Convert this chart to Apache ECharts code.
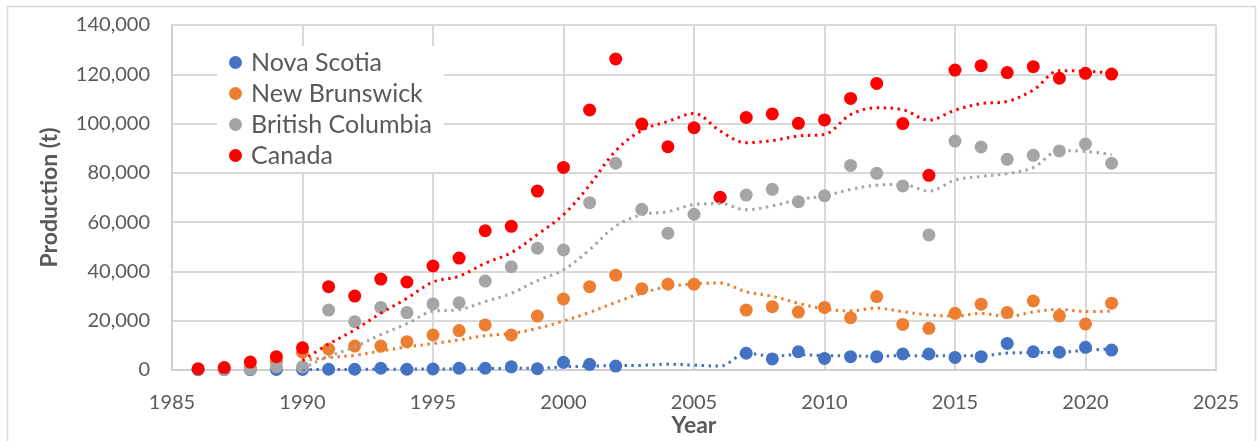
<!DOCTYPE html>
<html>
<head>
<meta charset="utf-8">
<title>Production (t)</title>
<script src="https://cdn.jsdelivr.net/npm/echarts@6/dist/echarts.min.js"></script>
<style>
  html, body { margin: 0; padding: 0; background: #fff; overflow: hidden; }
  #chart { width: 1259px; height: 441px; }
</style>
</head>
<body>
<div id="chart"></div>
<script>
// 年份 1986-2021
const years = [
  1986, 1987, 1988, 1989, 1990, 1991, 1992, 1993, 1994, 1995, 1996, 1997,
  1998, 1999, 2000, 2001, 2002, 2003, 2004, 2005, 2006, 2007, 2008, 2009,
  2010, 2011, 2012, 2013, 2014, 2015, 2016, 2017, 2018, 2019, 2020, 2021
];

// 各地区产量 (t)，null 为缺失年份
const novaScotia = [
  100, 100, 100, 200, 200, 300, 300, 700, 300, 400, 700, 700,
  1300, 500, 3100, 2300, 1600, null, null, null, null, 6800, 4500, 7400,
  4700, 5400, 5400, 6500, 6500, 5100, 5400, 10800, 7400, 7200, 9200, 8100
];
const newBrunswick = [
  null, null, 1000, 3500, 7200, 8500, 9700, 9700, 11500, 14200, 16000, 18300,
  14200, 21900, 28800, 33800, 38500, 33000, 34800, 34800, null, 24300, 25700, 23500,
  25400, 21200, 29800, 18500, 16900, 23000, 26700, 23300, 28000, 22000, 18700, 27100
];
const britishColumbia = [
  300, 200, 300, 1300, 1300, 24300, 19600, 25400, 23300, 26800, 27300, 36100,
  41900, 49400, 48700, 67900, 83900, 65200, 55500, 63200, 70000, 71000, 73300, 68300,
  70700, 83000, 79800, 74700, 54800, 92900, 90500, 85500, 87100, 88900, 91700, 83900
];
const canada = [
  500, 1000, 3200, 5400, 9000, 33800, 30000, 36900, 35700, 42200, 45400, 56500,
  58300, 72600, 82200, 105500, 126200, 99800, 90600, 98300, 70100, 102500, 103900, 100100,
  101500, 110200, 116300, 100000, 79000, 121700, 123500, 120700, 123100, 118400, 120400, 120100
];

const seriesNames = ['Nova Scotia', 'New Brunswick', 'British Columbia', 'Canada'];
const seriesColors = ['#4472C4', '#ED7D31', '#A5A5A5', '#FF0000'];
const seriesValues = [novaScotia, newBrunswick, britishColumbia, canada];

// 5年移动平均趋势线 (窗口内忽略缺失值)
const period = 5;
function movingAverage(values) {
  const out = [];
  for (let i = period - 1; i < values.length; i++) {
    const win = values.slice(i - period + 1, i + 1).filter(v => v != null);
    if (win.length) {
      out.push([years[i], win.reduce((a, b) => a + b, 0) / win.length]);
    }
  }
  return out;
}

const textColor = '#595959';
const font = 'Lato, "Open Sans", sans-serif';

const chart = echarts.init(document.getElementById('chart'));

// 散点系列
const scatterSeries = seriesNames.map((name, k) => ({
  name: name,
  type: 'scatter',
  symbol: 'circle',
  symbolSize: 13,
  itemStyle: { color: seriesColors[k], opacity: 1 },
  data: years.map((y, i) => [y, seriesValues[k][i]]).filter(p => p[1] != null),
  z: 3
}));

// 点线趋势线
const trendSeries = seriesNames.map((name, k) => ({
  name: name + ' trend',
  type: 'line',
  smooth: 0.35,
  symbol: 'none',
  lineStyle: { color: seriesColors[k], width: 3, type: [2.5, 4.5] },
  data: movingAverage(seriesValues[k]),
  z: 4,
  silent: true
}));

const option = {
  backgroundColor: '#fff',
  animation: false,
  textStyle: { fontFamily: font },
  grid: { left: 172, right: 43, top: 25, bottom: 71, outerBoundsMode: 'none' },
  // 外框
  graphic: [{
    type: 'rect',
    shape: { x: 7.5, y: 6.5, width: 1248, height: 445 },
    style: { fill: 'none', stroke: '#d9d9d9', lineWidth: 1.5 },
    z: -1
  }],
  legend: {
    data: seriesNames,
    orient: 'vertical',
    left: 217,
    top: 46,
    padding: [4, 12, 4, 12],
    backgroundColor: '#fff',
    icon: 'circle',
    itemWidth: 13,
    itemHeight: 13,
    itemGap: 6,
    textStyle: { color: textColor, fontSize: 25, lineHeight: 24, height: 24, fontFamily: font, padding: [0, 0, 0, 4] },
    z: 10
  },
  xAxis: {
    type: 'value',
    min: 1985,
    max: 2025,
    interval: 5,
    name: 'Year',
    nameLocation: 'middle',
    nameGap: 44,
    nameMoveOverlap: false,
    nameTextStyle: { color: textColor, fontSize: 23, fontWeight: 'bold', fontFamily: font },
    axisLine: { lineStyle: { color: '#cfcfcf', width: 2 } },
    axisTick: { show: false },
    axisLabel: { color: textColor, fontSize: 20, margin: 23, fontFamily: font, formatter: v => String(v) },
    splitLine: { lineStyle: { color: '#d9d9d9', width: 2 } }
  },
  yAxis: {
    type: 'value',
    min: 0,
    max: 140000,
    interval: 20000,
    name: 'Production (t)',
    nameLocation: 'middle',
    nameGap: 111,
    nameMoveOverlap: false,
    nameRotate: 90,
    nameTextStyle: { color: textColor, fontSize: 23, fontWeight: 'bold', fontFamily: font },
    axisLine: { show: true, lineStyle: { color: '#cfcfcf', width: 2 } },
    axisTick: { show: false },
    axisLabel: {
      color: textColor, fontSize: 20, margin: 22, fontFamily: font,
      formatter: v => v.toLocaleString('en-US')
    },
    splitLine: { lineStyle: { color: '#d9d9d9', width: 2 } }
  },
  series: scatterSeries.concat(trendSeries)
};

chart.setOption(option);
</script>
</body>
</html>
